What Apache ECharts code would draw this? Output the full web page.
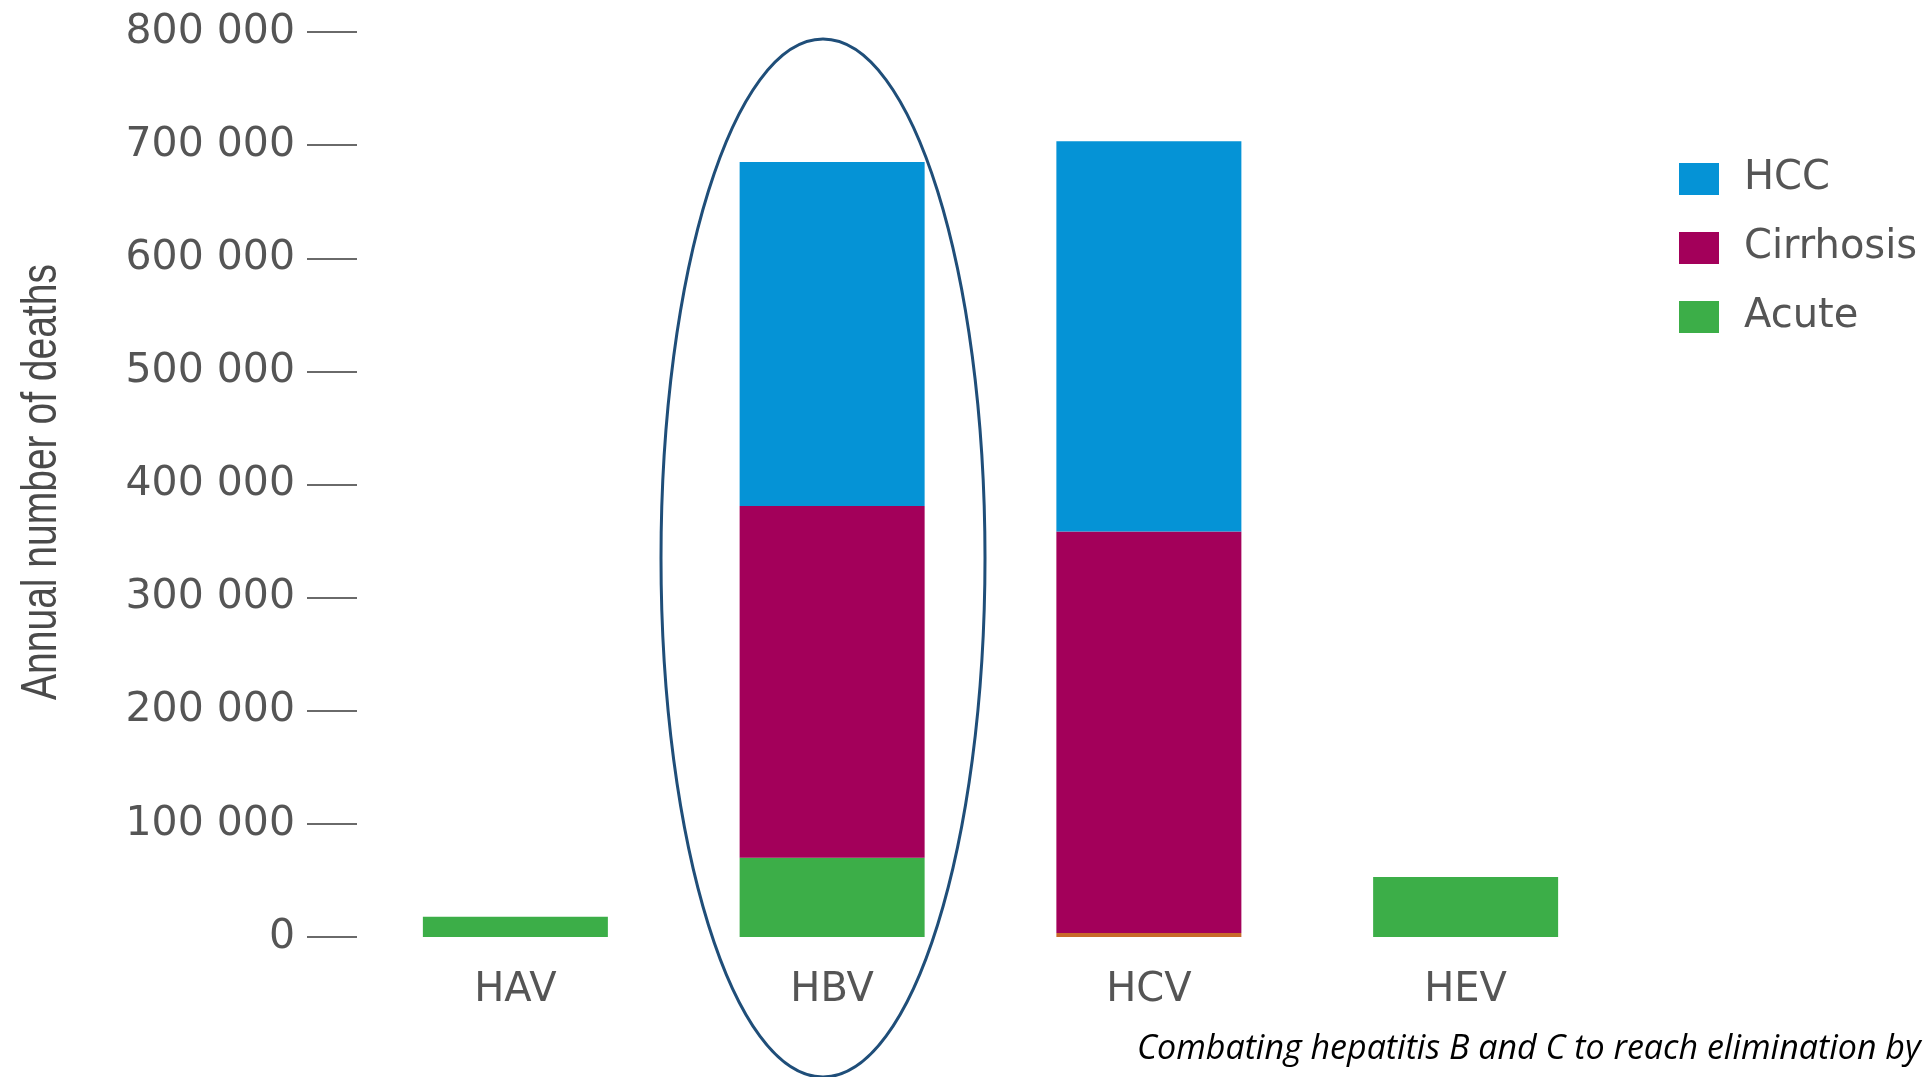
<!DOCTYPE html>
<html>
<head>
<meta charset="utf-8">
<title>Annual number of deaths by hepatitis virus</title>
<script src="https://cdn.jsdelivr.net/npm/echarts@6/dist/echarts.min.js"></script>
<style>
  html, body { margin: 0; padding: 0; background: #ffffff; }
  #chart { width: 1926px; height: 1077px; }
</style>
</head>
<body>
<div id="chart"></div>
<script>
// Hepatitis viruses on the category axis
const viruses = ['HAV', 'HBV', 'HCV', 'HEV'];

// Annual deaths by cause, one value per virus
const acuteDeaths = [18000, 70000, 3500, 53000];
const cirrhosisDeaths = [0, 311000, 355000, 0];
const hccDeaths = [0, 304000, 345000, 0];

// Value axis range and steps
const yMin = 0;
const yMax = 800000;
const yStep = 100000;

const COLORS = {
  hcc: '#0593d6',
  cirrhosis: '#a3005a',
  acute: '#3cae48',
  acuteHcv: '#c8692a',
  ring: '#1f4e79',
  text: '#555555'
};

const labelFont = '"DejaVu Sans", "Noto Sans", sans-serif';

// space as thousands separator: 800000 -> "800 000"
function spaced(v) {
  return String(v).replace(/\B(?=(\d{3})+(?!\d))/g, ' ');
}

const chart = echarts.init(document.getElementById('chart'), null, { renderer: 'canvas' });

chart.setOption({
  backgroundColor: '#ffffff',
  animation: false,
  grid: { left: 357, right: 302, top: 32, bottom: 140, containLabel: false },
  legend: {
    orient: 'vertical',
    left: 1674,
    top: 154,
    itemWidth: 40,
    itemHeight: 32,
    itemGap: 29,
    icon: 'rect',
    data: ['HCC', 'Cirrhosis', 'Acute'],
    textStyle: {
      fontFamily: labelFont,
      fontSize: 40,
      color: COLORS.text,
      padding: [0, 0, 0, 20]
    }
  },
  xAxis: {
    type: 'category',
    data: viruses,
    axisLine: { show: false },
    axisTick: { show: false },
    axisLabel: {
      fontFamily: labelFont,
      fontSize: 40,
      color: COLORS.text,
      margin: 34
    }
  },
  yAxis: {
    type: 'value',
    min: yMin,
    max: yMax,
    interval: yStep,
    axisLine: { show: false },
    splitLine: { show: false },
    axisTick: {
      show: true,
      inside: false,
      length: 50,
      lineStyle: { color: '#6a6a6a', width: 2 }
    },
    axisLabel: {
      fontFamily: labelFont,
      fontSize: 41,
      color: COLORS.text,
      margin: 62,
      formatter: spaced
    }
  },
  series: [
    {
      name: 'Acute',
      type: 'bar',
      stack: 'deaths',
      barWidth: 185,
      itemStyle: { color: COLORS.acute },
      data: acuteDeaths.map((v, i) =>
        viruses[i] === 'HCV' ? { value: v, itemStyle: { color: COLORS.acuteHcv } } : v)
    },
    {
      name: 'Cirrhosis',
      type: 'bar',
      stack: 'deaths',
      barWidth: 185,
      itemStyle: { color: COLORS.cirrhosis },
      data: cirrhosisDeaths
    },
    {
      name: 'HCC',
      type: 'bar',
      stack: 'deaths',
      barWidth: 185,
      itemStyle: { color: COLORS.hcc },
      data: hccDeaths
    }
  ],
  graphic: [
    {
      type: 'text',
      x: 42,
      y: 482,
      rotation: Math.PI / 2,
      scaleY: 1.3,
      style: {
        text: 'Annual number of deaths',
        fontFamily: '"Liberation Sans", Arial, sans-serif',
        fontSize: 39,
        fill: '#4a4a4a',
        align: 'center',
        verticalAlign: 'middle'
      }
    },
    {
      // outline around the HBV bar
      type: 'ellipse',
      z: 100,
      shape: { cx: 823, cy: 558, rx: 162, ry: 519 },
      style: { fill: null, stroke: COLORS.ring, lineWidth: 3 }
    },
    {
      type: 'text',
      x: 1137,
      y: 1049,
      style: {
        text: 'Combating hepatitis B and C to reach elimination by',
        fontFamily: '"Open Sans", "Noto Sans", sans-serif',
        fontStyle: 'italic',
        fontSize: 34,
        fill: '#000000',
        align: 'left',
        verticalAlign: 'middle'
      }
    }
  ]
});
</script>
</body>
</html>
